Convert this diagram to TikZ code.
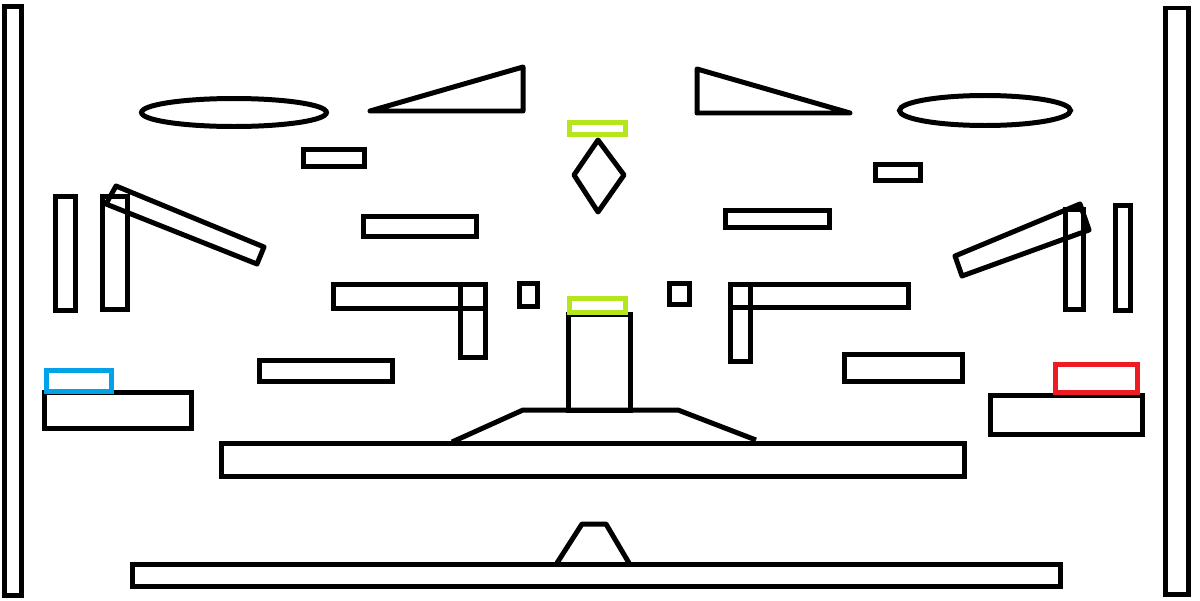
\documentclass[tikz,border=0pt]{standalone}
\usepackage{tikz}
\usetikzlibrary{calc}
\definecolor{padgreen}{RGB}{181,230,29}
\definecolor{padblue}{RGB}{0,162,232}
\definecolor{padred}{RGB}{237,28,36}
\tikzset{
  block/.style={draw=black, line width=1.42pt},
  ramp/.style={block, line join=round},
  greenpad/.style={draw=padgreen, line width=1.42pt},
  bluepad/.style={draw=padblue, line width=1.42pt},
  redpad/.style={draw=padred, line width=1.42pt}
}

\begin{document}
\begin{tikzpicture}[x=0.01cm, y=-0.01cm]

\useasboundingbox (0,0) rectangle (1200,600);

% side walls
\draw[block] (4.5,6.5) rectangle (21.5,595.5);
\draw[block] (1165,8) rectangle (1188.5,594);

% top row
\draw[block] (234,112.5) ellipse [x radius=92.5, y radius=14];
\draw[block] (985,110.5) ellipse [x radius=85.5, y radius=15];
\draw[ramp] (370,111) -- (523,67) -- (523,111) -- cycle;
\draw[ramp] (697,69) -- (697,113) -- (850,113) -- cycle;
\draw[block] (303.5,149.5) rectangle (364.5,166.5);
\draw[block] (875.5,164.5) rectangle (920.5,180.5);
\draw[ramp] (598,140) -- (624,175) -- (598,212) -- (574,175) -- cycle;
\draw[greenpad] (569.5,122.5) rectangle (625.5,134.5);
\draw[block] (363.5,216.5) rectangle (476.5,236.5);
\draw[block] (725.5,210.5) rectangle (829.5,227.5);

% left posts and tilted bar
\draw[block] (55.5,196.5) rectangle (75.5,310.5);
\draw[block] (102.5,196.5) rectangle (127.5,309.5);
\draw[ramp] (116,186) -- (264,247) -- (257,264) -- (106,204) -- cycle;

% right posts and tilted bar
\draw[block] (1065.5,209.5) rectangle (1083.5,309.5);
\draw[block] (1115.5,205.5) rectangle (1130.5,310.5);
\draw[ramp] (955,256) -- (1080,204) -- (1089,230) -- (962,276) -- cycle;

% L shapes
\draw[block] (333,284) rectangle (485,308);
\draw[block] (460,284) rectangle (485,357);
\draw[block] (730,284) rectangle (908,307);
\draw[block] (730,284) rectangle (750,361);
\draw[block] (519.5,283.5) rectangle (537.5,306.5);
\draw[block] (669.5,283.5) rectangle (689.5,304.5);

% center tower
\draw[block] (568.5,314.5) rectangle (630.5,410);
\draw[greenpad] (569.5,298.5) rectangle (625.5,312.5);
\draw[ramp] (452,442) -- (523,410) -- (678,410) -- (756,440);

% side ledges
\draw[block] (259.5,360.5) rectangle (392.5,381.5);
\draw[block] (44.5,392.5) rectangle (191.5,428.5);
\draw[bluepad] (46.5,370.5) rectangle (111.5,391.5);
\draw[block] (844.5,354.5) rectangle (962.5,381.5);
\draw[block] (990.5,395.5) rectangle (1142.5,434.5);
\draw[redpad] (1055.5,364.5) rectangle (1137.5,392.5);

% floors
\draw[block] (221.5,443.5) rectangle (964.5,476.5);
\draw[block] (132.5,564.5) rectangle (1060.5,586.5);
\draw[ramp] (557,563) -- (582,524) -- (606,524) -- (629,563);

\end{tikzpicture}
\end{document}
